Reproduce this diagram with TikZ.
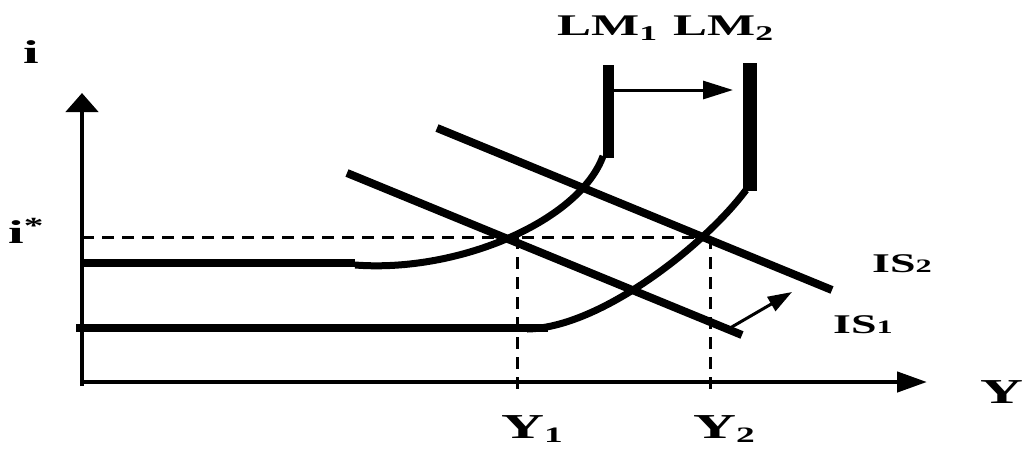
\documentclass[tikz,border=0pt]{standalone}
\usepackage{fontspec}
\setmainfont{Liberation Serif}
\usepackage{graphicx}
\usetikzlibrary{arrows.meta}
\newcommand{\wide}[1]{\scalebox{1.7}[1]{#1}}
\newcommand{\lowsub}[1]{\raisebox{-4pt}{\fontsize{22}{26}\selectfont #1}}

\begin{document}
\begin{tikzpicture}[
  x=1pt, y=-1pt,
  axis/.style={line width=4.5pt},
  flat/.style={line width=8.5pt},
  lmcurve/.style={line width=7pt},
  isline/.style={line width=8pt},
  shiftarrow/.style={line width=3pt},
  guide/.style={line width=3pt, dash pattern=on 12pt off 8pt},
  lbl/.style={inner sep=0pt, anchor=base west, font=\bfseries\fontsize{30}{36}\selectfont},
  biglbl/.style={lbl, font=\bfseries\fontsize{35}{42}\selectfont}
]
\useasboundingbox (0,0) rectangle (1023,448);

% axes
\coordinate (O) at (82,382);
\coordinate (itop) at (82,93);
\coordinate (yend) at (927,382);
\draw[axis, -{Triangle[length=19pt,width=32pt]}] (82,386) -- (itop);
\draw[axis, -{Triangle[length=30pt,width=20pt]}] (O) -- (yend);

% equilibrium guides
\coordinate (istar) at (82,237);
\coordinate (E2) at (708,237);
\coordinate (Y1top) at (517,237);
\coordinate (Y1bot) at (517,390);
\coordinate (Y2top) at (710,237);
\coordinate (Y2bot) at (710,390);
\draw[guide] (istar) -- (E2);
\draw[guide] (Y1top) -- (Y1bot);
\draw[guide] (Y2top) -- (Y2bot);

% LM1
\draw[flat] (82,263) -- (355,263);
\draw[lmcurve] (355,265) .. controls (460,273) and (580,220) .. (603,156);
\draw[line width=11pt] (608,158) -- (608,65);

% LM2
\draw[flat] (76,328) -- (548,328);
\draw[lmcurve] (527,329) .. controls (600,328) and (705,245) .. (746,190);
\draw[line width=14pt] (750,191) -- (750,63);

% IS curves
\draw[isline] (347,173) -- (742,335);
\draw[isline] (437,128) -- (832,290);

% shifts
\draw[shiftarrow, -{Triangle[length=30pt,width=18pt]}] (614,90) -- (733,90);
\draw[shiftarrow, -{Triangle[length=24pt,width=16pt]}] (730,328) -- (792,292);

% labels
\node[biglbl, font=\bfseries\fontsize{33}{40}\selectfont] (li) at (23,63) {\wide{i}};
\node[biglbl, font=\bfseries\fontsize{33}{40}\selectfont] (listar) at (8,243) {\wide{i\textsuperscript{*}}};
\node[lbl] (lLM1) at (557,35) {\wide{LM\textsubscript{1}}};
\node[lbl] (lLM2) at (673,35) {\wide{LM\textsubscript{2}}};
\node[lbl, font=\bfseries\fontsize{27}{32}\selectfont] (lIS2) at (872,272) {\wide{IS{\fontsize{19}{22}\selectfont 2}}};
\node[lbl, font=\bfseries\fontsize{27}{32}\selectfont] (lIS1) at (833,333) {\wide{IS{\fontsize{19}{22}\selectfont 1}}};
\node[biglbl] (lY1) at (501,438) {\wide{Y\lowsub{1}}};
\node[biglbl] (lY2) at (693,438) {\wide{Y\lowsub{2}}};
\node[biglbl] (lY) at (980,403) {\wide{Y}};

\end{tikzpicture}
\end{document}
